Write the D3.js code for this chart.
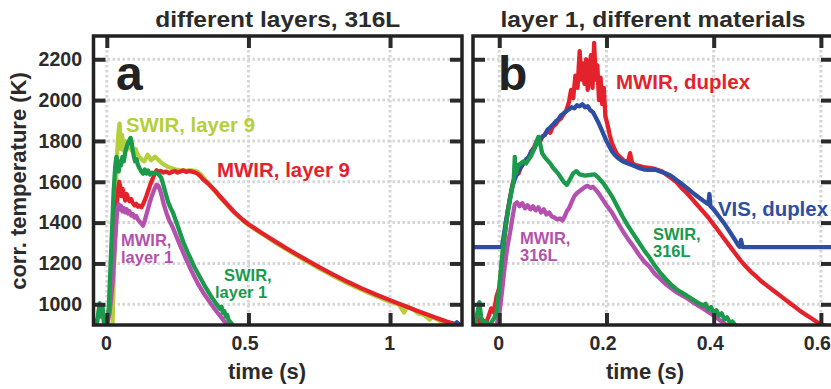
<!DOCTYPE html>
<html><head><meta charset="utf-8">
<script src="https://cdn.jsdelivr.net/npm/d3@7"></script>
<style>
body{margin:0;background:#fff;}
svg{display:block;font-family:"Liberation Sans",Arial,Helvetica,sans-serif;font-weight:bold;}
</style></head><body>
<svg id="c" width="831" height="389"></svg>
<script>
// ---------- data ----------
const yTicks = [1000, 1200, 1400, 1600, 1800, 2000, 2200];
const xTicksA = [0, 0.5, 1];
const xTicksB = [0, 0.2, 0.4, 0.6];
const xTickLabelsA = ["0", "0.5", "1"];
const xTickLabelsB = ["0", "0.2", "0.4", "0.6"];
const panelTitles = ["different layers, 316L", "layer 1, different materials"];

// panel a: different layers, 316L  [time s, temperature K]
const aSwir9 = [[0.020,900],[0.026,1200],[0.031,1520],[0.035,1700],[0.039,1800],[0.042,1850],[0.045,1885],[0.048,1800],[0.051,1760],[0.054,1830],[0.057,1770],[0.060,1750],[0.064,1800],[0.068,1780],[0.072,1760],[0.078,1790],[0.084,1770],[0.090,1752],[0.096,1745],[0.102,1760],[0.108,1735],[0.114,1722],[0.120,1715],[0.126,1706],[0.132,1700],[0.138,1715],[0.144,1732],[0.150,1722],[0.156,1706],[0.162,1712],[0.170,1722],[0.178,1712],[0.186,1702],[0.194,1692],[0.202,1684],[0.212,1676],[0.222,1670],[0.232,1665],[0.245,1660],[0.26,1656],[0.28,1655],[0.30,1656],[0.32,1650],[0.335,1632],[0.35,1605],[0.375,1565],[0.40,1523],[0.45,1448],[0.50,1388],[0.55,1343],[0.60,1298],[0.65,1255],[0.70,1215],[0.75,1176],[0.80,1138],[0.85,1103],[0.90,1071],[0.95,1040],[1.00,1012],[1.03,1000],[1.05,960],[1.06,990],[1.08,975],[1.10,955],[1.12,948],[1.14,925],[1.15,938],[1.18,915],[1.20,905],[1.23,896]];
const aMwir9 = [[0.000,900],[0.010,1000],[0.020,1150],[0.030,1350],[0.036,1500],[0.040,1560],[0.044,1600],[0.048,1570],[0.052,1530],[0.056,1565],[0.060,1540],[0.065,1508],[0.070,1540],[0.075,1520],[0.080,1505],[0.086,1515],[0.092,1495],[0.098,1485],[0.104,1492],[0.110,1478],[0.116,1483],[0.122,1475],[0.128,1490],[0.134,1510],[0.140,1532],[0.146,1556],[0.152,1580],[0.158,1602],[0.164,1622],[0.170,1642],[0.176,1656],[0.182,1648],[0.190,1653],[0.200,1645],[0.210,1650],[0.220,1642],[0.230,1648],[0.240,1653],[0.250,1645],[0.260,1650],[0.270,1656],[0.280,1648],[0.290,1653],[0.300,1650],[0.310,1646],[0.320,1640],[0.330,1628],[0.340,1612],[0.360,1588],[0.380,1560],[0.400,1528],[0.420,1497],[0.450,1452],[0.480,1414],[0.500,1392],[0.550,1347],[0.600,1303],[0.650,1261],[0.700,1221],[0.750,1182],[0.800,1145],[0.850,1110],[0.900,1078],[0.950,1048],[1.000,1020],[1.050,993],[1.100,966],[1.150,940],[1.200,915],[1.250,896]];
const aMwir1 = [[0.000,900],[0.010,960],[0.020,1100],[0.028,1280],[0.034,1420],[0.038,1470],[0.042,1490],[0.046,1465],[0.050,1482],[0.055,1455],[0.060,1470],[0.065,1450],[0.070,1466],[0.075,1445],[0.080,1456],[0.086,1435],[0.092,1442],[0.098,1425],[0.104,1432],[0.110,1415],[0.116,1405],[0.122,1395],[0.128,1385],[0.134,1410],[0.140,1440],[0.146,1470],[0.152,1500],[0.158,1526],[0.164,1550],[0.170,1570],[0.176,1586],[0.182,1580],[0.188,1560],[0.194,1530],[0.200,1495],[0.210,1450],[0.220,1412],[0.230,1385],[0.240,1352],[0.260,1285],[0.280,1220],[0.300,1160],[0.320,1105],[0.340,1058],[0.360,1018],[0.380,978],[0.400,943],[0.420,908],[0.425,898]];
const aSwir1 = [[-0.047,905],[-0.040,920],[-0.035,900],[-0.030,960],[-0.025,1005],[-0.020,940],[-0.015,990],[-0.010,905],[-0.005,920],[0.000,905],[0.006,950],[0.012,1150],[0.018,1350],[0.024,1550],[0.030,1680],[0.034,1722],[0.038,1690],[0.042,1650],[0.046,1700],[0.050,1680],[0.055,1722],[0.060,1700],[0.066,1750],[0.072,1780],[0.078,1800],[0.084,1815],[0.088,1790],[0.092,1750],[0.096,1720],[0.100,1700],[0.105,1710],[0.110,1682],[0.116,1665],[0.122,1650],[0.128,1640],[0.134,1660],[0.140,1640],[0.146,1655],[0.152,1636],[0.160,1645],[0.168,1640],[0.176,1645],[0.184,1635],[0.192,1620],[0.200,1582],[0.208,1542],[0.216,1502],[0.226,1470],[0.234,1447],[0.250,1385],[0.270,1305],[0.290,1240],[0.310,1180],[0.330,1130],[0.350,1080],[0.370,1035],[0.390,995],[0.400,978],[0.405,988],[0.410,958],[0.415,966],[0.420,940],[0.425,948],[0.430,922],[0.435,915],[0.445,898]];
const aVis9 = [[1.228,900],[1.236,912],[1.244,902]];

// panel b: layer 1, different materials
const bMwirDuplex = [[-0.049,905],[-0.040,930],[-0.035,900],[-0.030,920],[-0.025,905],[-0.020,940],[-0.015,980],[-0.010,960],[-0.005,1040],[0.000,1080],[0.004,1180],[0.008,1280],[0.012,1380],[0.016,1460],[0.020,1520],[0.024,1580],[0.028,1620],[0.032,1650],[0.036,1640],[0.040,1670],[0.045,1690],[0.050,1700],[0.055,1720],[0.060,1750],[0.065,1770],[0.070,1800],[0.075,1790],[0.080,1820],[0.085,1830],[0.090,1850],[0.095,1840],[0.100,1870],[0.105,1880],[0.110,1900],[0.115,1910],[0.120,1930],[0.125,1950],[0.130,1990],[0.134,2050],[0.138,2010],[0.142,2120],[0.146,2060],[0.150,2240],[0.153,2100],[0.156,2180],[0.159,2080],[0.162,2200],[0.165,2050],[0.168,2150],[0.171,2220],[0.174,2060],[0.177,2280],[0.180,2100],[0.183,2170],[0.186,2000],[0.189,2110],[0.192,1980],[0.195,2060],[0.198,1920],[0.202,1880],[0.206,1830],[0.210,1790],[0.215,1760],[0.220,1735],[0.226,1720],[0.232,1705],[0.240,1695],[0.244,1740],[0.248,1690],[0.256,1680],[0.264,1675],[0.272,1670],[0.280,1668],[0.288,1665],[0.296,1658],[0.304,1650],[0.312,1635],[0.320,1620],[0.330,1600],[0.340,1570],[0.350,1545],[0.360,1515],[0.370,1485],[0.380,1455],[0.390,1425],[0.400,1390],[0.410,1355],[0.420,1320],[0.430,1285],[0.440,1250],[0.450,1215],[0.460,1185],[0.470,1158],[0.480,1135],[0.490,1110],[0.500,1090],[0.510,1070],[0.520,1050],[0.530,1030],[0.540,1010],[0.550,990],[0.560,970],[0.570,952],[0.580,935],[0.590,918],[0.600,900],[0.610,895]];
const bVisDuplex = [[-0.049,1280],[0.005,1280],[0.008,1330],[0.012,1400],[0.016,1460],[0.020,1520],[0.025,1580],[0.030,1620],[0.035,1650],[0.040,1670],[0.045,1690],[0.050,1710],[0.055,1720],[0.060,1750],[0.065,1760],[0.070,1790],[0.075,1800],[0.080,1820],[0.085,1830],[0.090,1855],[0.095,1865],[0.100,1880],[0.105,1895],[0.110,1905],[0.115,1925],[0.120,1935],[0.125,1945],[0.130,1955],[0.135,1965],[0.140,1960],[0.145,1975],[0.150,1970],[0.155,1980],[0.160,1965],[0.165,1970],[0.170,1950],[0.175,1940],[0.180,1915],[0.185,1890],[0.190,1860],[0.195,1830],[0.200,1800],[0.205,1775],[0.210,1750],[0.216,1730],[0.222,1715],[0.230,1700],[0.240,1690],[0.250,1680],[0.260,1668],[0.270,1660],[0.280,1658],[0.290,1660],[0.300,1650],[0.310,1642],[0.320,1630],[0.330,1610],[0.340,1590],[0.350,1570],[0.360,1548],[0.370,1528],[0.380,1508],[0.390,1490],[0.392,1540],[0.394,1480],[0.400,1465],[0.410,1430],[0.420,1395],[0.430,1355],[0.440,1315],[0.445,1292],[0.448,1282],[0.451,1315],[0.454,1280],[0.630,1280]];
const bSwir316 = [[-0.049,900],[-0.044,920],[-0.040,970],[-0.037,1010],[-0.034,940],[-0.030,905],[-0.025,915],[-0.020,900],[-0.015,910],[-0.010,930],[-0.005,960],[0.000,1080],[0.004,1200],[0.008,1300],[0.012,1380],[0.016,1450],[0.020,1510],[0.024,1570],[0.027,1610],[0.029,1722],[0.031,1640],[0.035,1680],[0.040,1690],[0.045,1700],[0.050,1690],[0.055,1710],[0.060,1730],[0.065,1760],[0.070,1800],[0.073,1820],[0.076,1790],[0.080,1740],[0.085,1720],[0.090,1705],[0.095,1690],[0.100,1670],[0.110,1640],[0.120,1600],[0.126,1585],[0.132,1612],[0.138,1642],[0.144,1652],[0.150,1636],[0.160,1630],[0.170,1634],[0.178,1636],[0.185,1620],[0.190,1605],[0.195,1590],[0.200,1570],[0.210,1530],[0.220,1480],[0.230,1430],[0.240,1385],[0.250,1345],[0.260,1305],[0.270,1265],[0.280,1230],[0.290,1190],[0.300,1155],[0.310,1125],[0.320,1098],[0.330,1075],[0.340,1058],[0.350,1042],[0.360,1025],[0.370,1008],[0.380,995],[0.385,1002],[0.390,975],[0.395,986],[0.400,960],[0.405,971],[0.410,945],[0.415,956],[0.420,925],[0.425,936],[0.430,910],[0.435,916],[0.440,898]];
const bMwir316 = [[-0.005,900],[0.000,950],[0.005,1060],[0.010,1180],[0.015,1280],[0.020,1350],[0.025,1430],[0.029,1490],[0.033,1500],[0.038,1480],[0.043,1495],[0.048,1470],[0.053,1485],[0.058,1465],[0.063,1480],[0.068,1460],[0.073,1475],[0.078,1450],[0.083,1465],[0.088,1440],[0.093,1450],[0.098,1430],[0.103,1425],[0.108,1415],[0.113,1420],[0.118,1410],[0.122,1430],[0.126,1455],[0.130,1470],[0.135,1500],[0.140,1530],[0.145,1545],[0.150,1555],[0.155,1565],[0.160,1575],[0.165,1580],[0.170,1570],[0.175,1575],[0.180,1560],[0.185,1545],[0.190,1525],[0.195,1505],[0.200,1485],[0.210,1450],[0.220,1405],[0.230,1360],[0.240,1320],[0.250,1285],[0.260,1245],[0.270,1210],[0.280,1185],[0.290,1150],[0.300,1125],[0.310,1100],[0.320,1080],[0.330,1060],[0.340,1045],[0.350,1030],[0.360,1012],[0.370,995],[0.380,980],[0.390,962],[0.400,945],[0.410,925],[0.420,905],[0.425,898]];

// ---------- style ----------
const C = {
  red: "#e4222c", yg: "#b5cf3a", green: "#1b9a4b", mag: "#b450ad", blue: "#2d4ea3",
  ink: "#2b2b2b", grid: "#d6d6d6"
};

const svg = d3.select("#c");
const yTop = 36, yBot = 325;
const y = d3.scaleLinear().domain([898.5, 2314]).range([yBot, yTop]);

const panels = [
  { id: "a", x: d3.scaleLinear().domain([-0.047, 1.254]).range([93.5, 462]), ticks: xTicksA, labels: xTickLabelsA, title: panelTitles[0], titleW: 245, showY: true, xlab: 267,
    series: [[aSwir9, C.yg], [aMwir9, C.red], [aVis9, C.blue], [aMwir1, C.mag], [aSwir1, C.green]],
    texts: [
      ["SWIR, layer 9", 126, 132, C.yg, 20, 129],
      ["MWIR, layer 9", 217, 177, C.red, 20, 133],
      ["MWIR,", 121, 246, C.mag, 16.5, null],
      ["layer 1", 121, 263, C.mag, 16.5, null],
      ["SWIR,", 224, 281, C.green, 16.5, null],
      ["layer 1", 215, 298, C.green, 16.5, null]
    ] },
  { id: "b", x: d3.scaleLinear().domain([-0.049, 0.6226]).range([473, 833]), ticks: xTicksB, labels: xTickLabelsB, title: panelTitles[1], titleW: 305, showY: false, xlab: 645,
    series: [[bMwirDuplex, C.red], [bVisDuplex, C.blue], [bMwir316, C.mag], [bSwir316, C.green]],
    texts: [
      ["MWIR, duplex", 616, 89, C.red, 20, 134],
      ["VIS, duplex", 718, 216, C.blue, 20, 110],
      ["MWIR,", 520, 244, C.mag, 16.5, null],
      ["316L", 520, 261, C.mag, 16.5, null],
      ["SWIR,", 653, 240, C.green, 16.5, null],
      ["316L", 653, 257, C.green, 16.5, null]
    ] }
];

panels.forEach((p, i) => {
  const x = p.x;
  const [x0, x1] = x.range();
  const g = svg.append("g");

  g.append("clipPath").attr("id", "clip" + i)
    .append("rect").attr("x", x0).attr("y", yTop).attr("width", x1 - x0).attr("height", yBot - yTop);

  const grid = g.append("g").attr("stroke", C.grid).attr("stroke-width", 3).attr("stroke-dasharray", "2.5,2.5");
  grid.selectAll("line.h").data(yTicks).join("line").attr("class", "h")
    .attr("x1", x0 + 4).attr("x2", x1 - 4).attr("y1", d => y(d)).attr("y2", d => y(d));
  grid.selectAll("line.v").data(p.ticks).join("line").attr("class", "v")
    .attr("x1", d => x(d)).attr("x2", d => x(d)).attr("y1", yTop + 4).attr("y2", yBot - 4);

  const line = d3.line().x(d => x(d[0])).y(d => y(d[1]));
  const cg = g.append("g").attr("clip-path", `url(#clip${i})`);
  p.series.forEach(([data, col]) => {
    cg.append("path").datum(data).attr("d", line)
      .attr("fill", "none").attr("stroke", col).attr("stroke-width", 4.3)
      .attr("stroke-linejoin", "round").attr("stroke-linecap", "round");
  });

  const styleAxis = sel => {
    sel.select(".domain").remove();
    sel.selectAll(".tick line").attr("stroke", C.ink).attr("stroke-width", 4);
    sel.selectAll("text").attr("fill", C.ink).style("font-size", "19.5px").style("font-weight", "bold")
      .style("font-family", "'Liberation Sans', Arial, sans-serif");
  };
  const tickFmt = (d, k) => p.labels[k];
  g.append("g").attr("transform", `translate(0,${yBot})`)
    .call(d3.axisBottom(x).tickValues(p.ticks).tickFormat(tickFmt).tickSizeInner(-12).tickSizeOuter(0))
    .call(styleAxis)
    .call(s => s.selectAll("text").attr("y", 25).attr("dy", 0).attr("dx", d => String(d).includes(".") ? -4 : -1));
  g.append("g").attr("transform", `translate(0,${yTop})`)
    .call(d3.axisTop(x).tickValues(p.ticks).tickFormat("").tickSizeInner(-12).tickSizeOuter(0))
    .call(styleAxis);
  const yl = g.append("g").attr("transform", `translate(${x0},0)`)
    .call(d3.axisLeft(y).tickValues(yTicks).tickFormat(p.showY ? d3.format("d") : "").tickSizeInner(-12).tickSizeOuter(0))
    .call(styleAxis);
  yl.selectAll("text").attr("x", -11.5);
  g.append("g").attr("transform", `translate(${x1},0)`)
    .call(d3.axisRight(y).tickValues(yTicks).tickFormat("").tickSizeInner(-12).tickSizeOuter(0))
    .call(styleAxis);

  g.append("rect").attr("x", x0).attr("y", yTop).attr("width", x1 - x0).attr("height", yBot - yTop)
    .attr("fill", "none").attr("stroke", "#222").attr("stroke-width", 3.5);

  g.append("text").attr("x", i === 0 ? 116 : 498).attr("y", 90).attr("fill", "#222")
    .style("font-size", "48px").text(p.id);

  g.append("text").attr("x", (x0 + Math.min(x1, 831)) / 2 + (i === 0 ? 0 : 1)).attr("y", 26.5).attr("text-anchor", "middle")
    .attr("fill", C.ink).style("font-size", "22.5px")
    .attr("textLength", p.titleW).attr("lengthAdjust", "spacingAndGlyphs").text(p.title);

  g.append("text").attr("x", p.xlab).attr("y", 379).attr("text-anchor", "middle")
    .attr("fill", C.ink).style("font-size", "22px").text("time (s)");

  p.texts.forEach(([t, tx, ty, col, fs, w]) => {
    const el = g.append("text").attr("x", tx).attr("y", ty).attr("fill", col).style("font-size", fs + "px").text(t);
    if (w) el.attr("textLength", w).attr("lengthAdjust", "spacingAndGlyphs");
  });
});

svg.append("text").attr("transform", "translate(26,181) rotate(-90)").attr("text-anchor", "middle")
  .attr("fill", C.ink).style("font-size", "22px").text("corr. temperature (K)");
</script>
</body></html>
